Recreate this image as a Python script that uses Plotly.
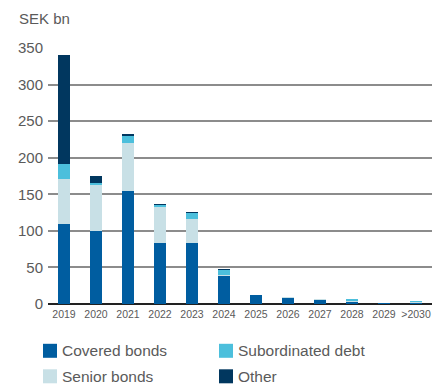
import plotly.graph_objects as go

# Maturity profile, SEK bn
years = ["2019", "2020", "2021", "2022", "2023", "2024",
         "2025", "2026", "2027", "2028", "2029", ">2030"]
covered_bonds = [110, 100, 154, 83, 84, 39, 12, 9, 5.5, 3.5, 0.5, 2.5]
senior_bonds = [61, 64, 66, 50, 32, 0.5, 0, 0.5, 0.5, 1.5, 0, 0.3]
subordinated_debt = [20, 1, 11, 2.5, 8.5, 7.5, 0, 0, 0, 2.5, 0, 0.4]
other = [150, 10, 1, 1, 1, 0.5, 0, 0, 0, 0, 0, 0]

series_names = ["Covered bonds", "Senior bonds", "Subordinated debt", "Other"]
series_values = [covered_bonds, senior_bonds, subordinated_debt, other]
series_colors = ["#005DA0", "#C8E0E6", "#4CBFDC", "#01375F"]

y_ticks = [0, 50, 100, 150, 200, 250, 300, 350]

FONT = "Liberation Sans, Arial, Helvetica, sans-serif"
TEXT_GREY = "#5a5a5a"

fig = go.Figure()
for name, vals, col in zip(series_names, series_values, series_colors):
    fig.add_trace(go.Bar(
        x=years, y=vals, name=name,
        marker=dict(color=col, line=dict(width=0)),
        showlegend=False,
    ))

fig.update_layout(
    width=433, height=385,
    barmode="stack",
    bargap=0.6,
    plot_bgcolor="white",
    paper_bgcolor="white",
    margin=dict(l=48, r=1, t=48, b=81),
    font=dict(family=FONT, color=TEXT_GREY),
    xaxis=dict(
        type="category",
        showgrid=False,
        showline=False,
        ticks="",
        tickfont=dict(size=10.5, color=TEXT_GREY),
        ticklabelstandoff=2,
        fixedrange=True,
    ),
    yaxis=dict(
        range=[0, 350],
        tickvals=y_ticks,
        showgrid=True,
        gridcolor="#8c8c8c",
        gridwidth=1.5,
        zeroline=True,
        zerolinecolor="#222222",
        zerolinewidth=2,
        showline=False,
        ticks="",
        tickfont=dict(size=15, color=TEXT_GREY),
        ticklabelstandoff=4,
        fixedrange=True,
    ),
    annotations=[
        dict(text="SEK bn", xref="paper", yref="paper",
             x=-48 / 384 + 17 / 384, xanchor="left",
             y=1 + 30 / 256, yanchor="middle",
             showarrow=False, font=dict(size=15, color=TEXT_GREY)),
    ],
)

# Legend laid out as a 2x2 grid below the plot
legend_order = [0, 2, 1, 3]  # Covered, Subordinated / Senior, Other
col_x = [43, 219]
row_y = [350.5, 376]
shapes = []
annots = list(fig.layout.annotations)
W, H = 433, 385
for pos, idx in enumerate(legend_order):
    cx = col_x[pos % 2]
    cy = row_y[pos // 2]
    shapes.append(dict(
        type="rect", xref="paper", yref="paper",
        x0=(cx - 48) / 384, x1=(cx + 14 - 48) / 384,
        y0=(303.7 - (cy + 7)) / 256, y1=(303.7 - (cy - 7)) / 256,
        fillcolor=series_colors[idx], line=dict(width=0),
    ))
    annots.append(dict(
        text=series_names[idx], xref="paper", yref="paper",
        x=(cx + 17 - 48) / 384, xanchor="left",
        y=(303.7 - cy) / 256, yanchor="middle",
        showarrow=False, font=dict(size=15.5, color=TEXT_GREY),
    ))
fig.update_layout(shapes=shapes, annotations=annots)

fig.write_html("out.html")
